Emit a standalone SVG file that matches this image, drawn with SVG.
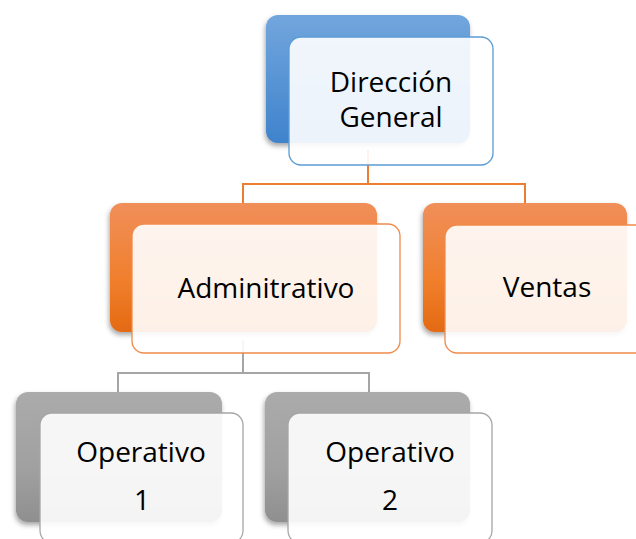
<svg xmlns="http://www.w3.org/2000/svg" width="636" height="539" viewBox="0 0 636 539">
<defs>
<linearGradient id="gBlue" x1="0" y1="0" x2="0" y2="1"><stop offset="0" stop-color="#72a6dd"/><stop offset="1" stop-color="#3f83cc"/></linearGradient>
<linearGradient id="gOrange" x1="0" y1="0" x2="0" y2="1"><stop offset="0" stop-color="#f08f5a"/><stop offset="0.6" stop-color="#f07f2c"/><stop offset="1" stop-color="#e46a12"/></linearGradient>
<linearGradient id="gGray" x1="0" y1="0" x2="0" y2="1"><stop offset="0" stop-color="#ababab"/><stop offset="0.6" stop-color="#a0a0a0"/><stop offset="1" stop-color="#8f8f8f"/></linearGradient>
<filter id="sh" x="-10%" y="-10%" width="125%" height="125%"><feDropShadow dx="-1" dy="3" stdDeviation="2.5" flood-color="#000" flood-opacity="0.35"/></filter>
</defs>
<style>
.lbl{font-family:"Open Sans","Liberation Sans",sans-serif;font-size:28px;fill:#000;text-anchor:middle}
.front{fill:#fff;fill-opacity:0.9;stroke-width:1.3}
.fb{stroke:#5b9bd5}
.fo{stroke:#f08a4b}
.fg{stroke:#a5a5a5}
.conO{stroke:#ed7d31;stroke-width:2;fill:none}
.conG{stroke:#a5a5a5;stroke-width:2;fill:none}
</style>
<g id="connectors">
<path class="conO" d="M368,150 V184 M243,203 V184 H525 V203"/>
<path class="conG" d="M243,340 V373 M118,392 V373 H369 V392"/>
</g>
<g id="direccion">
<rect x="266" y="15" width="204" height="128" rx="12" fill="url(#gBlue)" filter="url(#sh)"/>
<rect class="front fb" x="289" y="37" width="204" height="128" rx="12"/>
<text class="lbl" x="391" y="92">Dirección</text>
<text class="lbl" x="391" y="127">General</text>
</g>
<g id="administrativo">
<rect x="110" y="203" width="267" height="129" rx="12" fill="url(#gOrange)" filter="url(#sh)"/>
<rect class="front fo" x="132" y="224" width="268" height="129" rx="12"/>
<text class="lbl" x="266" y="298">Adminitrativo</text>
</g>
<g id="ventas">
<rect x="423" y="203" width="204" height="129" rx="12" fill="url(#gOrange)" filter="url(#sh)"/>
<rect class="front fo" x="445" y="225" width="204" height="128" rx="12"/>
<text class="lbl" x="547" y="297">Ventas</text>
</g>
<g id="operativo1">
<rect x="16" y="392" width="206" height="130" rx="12" fill="url(#gGray)" filter="url(#sh)"/>
<rect class="front fg" x="40" y="413" width="203" height="130" rx="12"/>
<text class="lbl" x="141" y="462">Operativo</text>
<text class="lbl" x="142" y="510">1</text>
</g>
<g id="operativo2">
<rect x="265" y="392" width="205" height="130" rx="12" fill="url(#gGray)" filter="url(#sh)"/>
<rect class="front fg" x="288" y="413" width="204" height="130" rx="12"/>
<text class="lbl" x="390" y="462">Operativo</text>
<text class="lbl" x="390" y="510">2</text>
</g>
</svg>
